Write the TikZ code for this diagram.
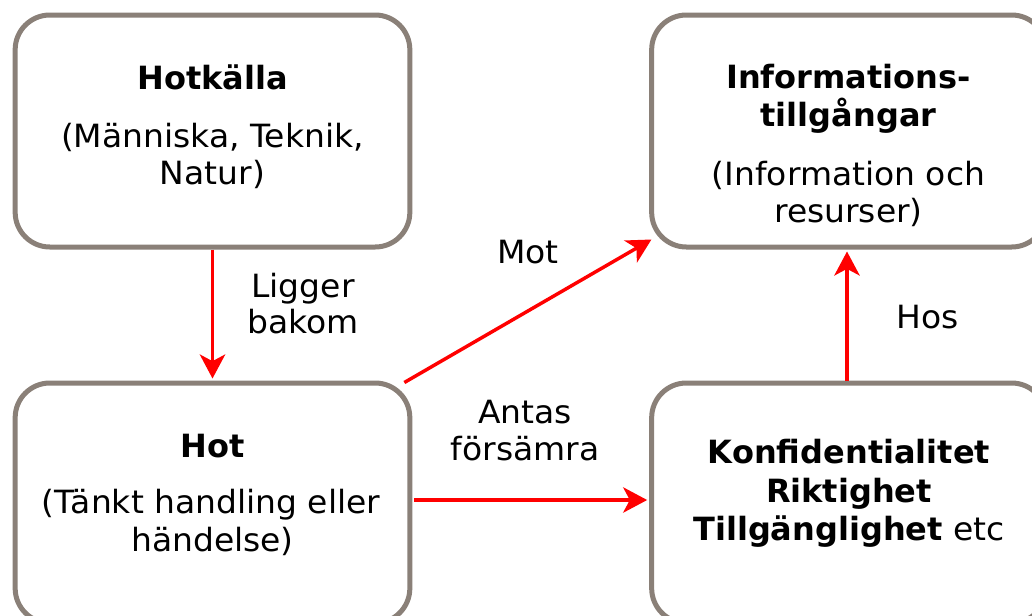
\documentclass[tikz,border=0pt]{standalone}
\usepackage{fontspec}
\setmainfont[FakeStretch=1.03,BoldFeatures={FakeStretch=1.0}]{DejaVu Sans}
\usetikzlibrary{arrows.meta}
\definecolor{boxgray}{RGB}{138,128,120}
\definecolor{arrred}{RGB}{255,0,0}
\begin{document}
\begin{tikzpicture}[x=0.75pt,y=-0.75pt,
  box/.style={draw=boxgray,line width=3.75pt,rounded corners=26pt,fill=white,
    minimum width=296pt,minimum height=174pt,inner sep=0pt},
  lowbox/.style={box,minimum height=180pt},
  txt/.style={anchor=base,inner sep=0pt,font=\fontsize{24pt}{29pt}\selectfont},
  arr/.style={draw=arrred,line width=2.6pt,-{Stealth[length=18pt,width=19pt,inset=5pt]},shorten >=1.5pt}]
\useasboundingbox (0,0) rectangle (1032,615);
\clip (0,0) rectangle (1032,615);
\fill[white] (0,0) rectangle (1032,615);
% boxes
\node[box] (A) at (212.5,131) {};
\node[box] (B) at (849,131) {};
\node[lowbox] (C) at (212.5,503) {};
\node[lowbox] (D) at (849,503) {};
% texts
\node[txt] (a1) at (212.5,89) {\textbf{Hotkälla}};
\node[txt] (a2) at (212.5,147) {(Människa, Teknik,};
\node[txt] (a3) at (212.5,184) {Natur)};
\node[txt] (b1) at (848.5,88) {\textbf{Informations-}};
\node[txt] (b2) at (848.5,126) {\textbf{tillgångar}};
\node[txt] (b3) at (848.5,185) {(Information och};
\node[txt] (b4) at (848.5,222) {resurser)};
\node[txt] (c1) at (212.5,457) {\textbf{Hot}};
\node[txt] (c2) at (211,513) {(Tänkt handling eller};
\node[txt] (c3) at (212.5,551) {händelse)};
\node[txt] (d1) at (849,463) {\textbf{Konfidentialitet}};
\node[txt] (d2) at (849,502) {\textbf{Riktighet}};
\node[txt] (d3) at (849,540) {\textbf{Tillgänglighet} etc};
% connectors
\draw[arr] (A.south) -- (C.north);
\draw[arr] ([shift={(-8,2)}]C.north east) -- ([shift={(4,-11)}]B.south west);
\draw[arr] ([xshift=1.5pt,yshift=2.25pt]C.east) -- ([yshift=2.25pt]D.west);
\draw[arr] ([xshift=-1.5pt]D.north) -- ([xshift=-1.5pt]B.south);
% labels
\node[txt] (l1) at (303,297) {Ligger};
\node[txt] (l2) at (303,333) {bakom};
\node[txt] (l3) at (528,263) {Mot};
\node[txt] (l4) at (525,423) {Antas};
\node[txt] (l5) at (525,460) {försämra};
\node[txt] (l6) at (928,328) {Hos};
\end{tikzpicture}
\end{document}
